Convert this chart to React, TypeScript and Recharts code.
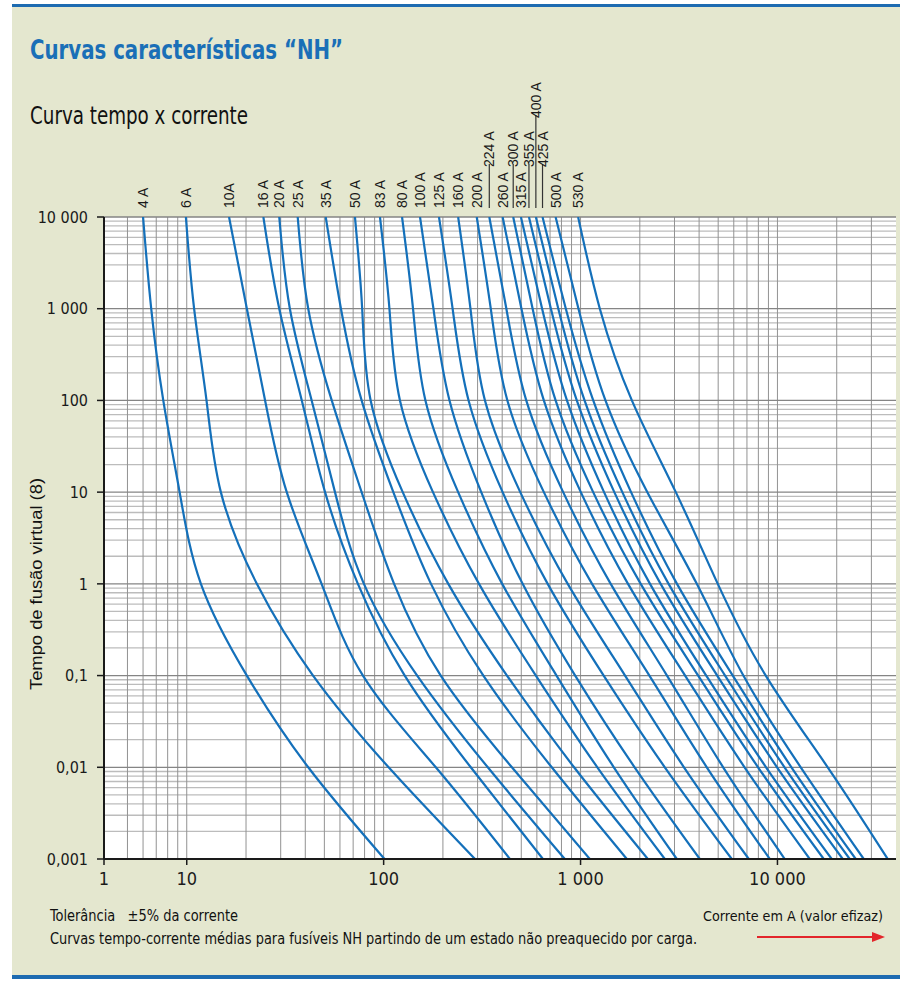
import { LineChart, Line, XAxis, YAxis, CartesianGrid } from 'recharts';

// fusing time (s) at which each current below is read
const TIMES = [10000, 1000, 100, 10, 1, 0.1, 0.01, 0.001];

// current (A) of each curve at the times above
const I_4 = [6.0, 6.6, 7.6, 9.2, 11.8, 20.2, 41.4, 101];
const I_6 = [9.9, 10.9, 12.6, 14.9, 22.7, 43.8, 106, 291];
const I_10 = [16.4, 20.2, 25.0, 32.2, 48.4, 78.5, 184, 438];
const I_16 = [24.5, 29.5, 38.4, 50.4, 74.0, 128, 277, 644];
const I_20 = [29.5, 33.4, 43.1, 56.6, 79.4, 148, 338, 832];
const I_25 = [36.6, 41.4, 54.5, 77.3, 113, 195, 448, 1115];
const I_35 = [50.8, 60.7, 77.3, 112, 174, 321, 714, 1718];
const I_50 = [71.5, 77.8, 85.9, 125, 213, 423, 927, 2196];
const I_63 = [95.8, 107, 121, 178, 305, 593, 1217, 2679];
const I_80 = [124, 141, 163, 239, 400, 755, 1476, 3082];
const I_100 = [153, 179, 216, 313, 508, 939, 1882, 4033];
const I_125 = [191, 224, 270, 402, 681, 1311, 2679, 5861];
const I_160 = [239, 276, 327, 494, 861, 1683, 3352, 7151];
const I_200 = [297, 350, 425, 651, 1144, 2237, 4377, 9140];
const I_224 = [344, 420, 530, 816, 1423, 2748, 5301, 10891];
const I_250 = [402, 501, 651, 1003, 1742, 3396, 6808, 14588];
const I_300 = [455, 571, 747, 1159, 2021, 3958, 7971, 17180];
const I_315 = [498, 638, 853, 1316, 2253, 4346, 8752, 18862];
const I_355 = [547, 707, 957, 1484, 2551, 4942, 9954, 21460];
const I_400 = [593, 771, 1048, 1630, 2800, 5420, 10864, 23280];
const I_425 = [641, 842, 1160, 1805, 3089, 5931, 11778, 24980];
const I_500 = [747, 976, 1338, 2184, 3894, 6713, 13128, 27430];
const I_630 = [972, 1253, 1822, 3046, 4977, 8722, 18000, 36300];

const CURVES = [
  I_4, I_6, I_10, I_16, I_20, I_25, I_35, I_50, I_63, I_80, I_100, I_125,
  I_160, I_200, I_224, I_250, I_300, I_315, I_355, I_400, I_425, I_500, I_630,
];
const CURVE_LABELS = [
  '4 A', '6 A', '10A', '16 A', '20 A', '25 A', '35 A', '50 A', '83 A', '80 A', '100 A', '125 A',
  '160 A', '200 A', '224 A', '260 A', '300 A', '315 A', '355 A', '400 A', '425 A', '500 A', '530 A',
];

const X_MIN = 3.8;
const X_MAX = 40000;
const X_TICKS = [X_MIN, 10, 100, 1000, 10000];
const X_TICK_LABELS = ['1', '10', '100', '1 000', '10 000'];
const Y_TICKS = [0.001, 0.01, 0.1, 1, 10, 100, 1000, 10000];
const Y_TICK_LABELS = ['0,001', '0,01', '0,1', '1', '10', '100', '1 000', '10 000'];

// which row of the header each curve name sits in (0 = lowest)
const LABEL_ROW = [0, 0, 0, 0, 0, 0, 0, 0, 0, 0, 0, 0, 0, 0, 1, 0, 1, 0, 1, 2, 1, 0, 0];
const ROW_LIFT = [0, 41, 90];

const BLUE = '#1470ba';
const PANEL = '#e4e7cf';
const NARROW = "'Liberation Sans Narrow', 'Arial Narrow', 'DejaVu Sans Condensed', 'Liberation Sans', sans-serif";
const ARIAL = "'Liberation Sans', Arial, sans-serif";

// grid values: 2..9 inside each decade
const minorCurrents: number[] = [];
for (let d = 1; d <= 10000; d *= 10) {
  for (let k = 1; k <= 9; k++) {
    const v = k * d;
    if (v >= 5 && v < X_MAX) minorCurrents.push(v);
  }
}
const minorTimes: number[] = [];
for (let d = 0.001; d < 10000; d *= 10) {
  for (let k = 2; k <= 9; k++) minorTimes.push(+(k * d).toPrecision(3));
}

const seriesData = CURVES.map((cur) => cur.map((i, n) => ({ i, t: TIMES[n] })));

function CurveLabel(props: any) {
  const { x, y, payload } = props;
  const idx = CURVES.findIndex((c) => c[0] === payload.value);
  if (idx < 0) return null;
  const row = LABEL_ROW[idx];
  const base = y - 9 - ROW_LIFT[row];
  return (
    <g>
      {row > 0 && <line x1={x} x2={x} y1={y - 9} y2={base - 3} stroke="#333" strokeWidth={1.2} />}
      <text
        x={x}
        y={base}
        transform={`rotate(-90, ${x}, ${base})`}
        textAnchor="start"
        dominantBaseline="central"
        fontFamily={ARIAL}
        fontSize={14}
        fill="#1a1a1a"
      >
        {CURVE_LABELS[idx]}
      </text>
    </g>
  );
}

export default function App() {
  return (
    <div style={{ position: 'absolute', left: 0, top: 0, width: 900, height: 981, background: '#fff' }}>
      <svg width={900} height={981} style={{ position: 'absolute', left: 0, top: 0 }}>
        <rect x={12} y={5} width={888} height={972} fill={PANEL} />
        <rect x={12} y={4} width={888} height={3} fill="#1d6bb1" />
        <rect x={12} y={975} width={888} height={4} fill="#1d6bb1" />
        <text x={30} y={59} fontFamily={NARROW} fontWeight="bold" fontSize={26} fill="#1a6fb7" textLength={313} lengthAdjust="spacingAndGlyphs">
          Curvas características “NH”
        </text>
        <text x={30} y={124} fontFamily={NARROW} fontSize={24} fill="#111" textLength={218} lengthAdjust="spacingAndGlyphs">
          Curva tempo x corrente
        </text>
        <text
          x={42}
          y={584}
          transform="rotate(-90, 42, 584)"
          textAnchor="middle"
          fontFamily={ARIAL}
          fontSize={17}
          fill="#111"
          textLength={212}
          lengthAdjust="spacingAndGlyphs"
        >
          Tempo de fusão virtual (8)
        </text>
        <text x={50} y={921} fontFamily={NARROW} fontSize={16} fill="#111" style={{ whiteSpace: 'pre' }} textLength={188} lengthAdjust="spacingAndGlyphs">
          {'Tolerância   ±5% da corrente'}
        </text>
        <text x={50} y={944} fontFamily={NARROW} fontSize={16} fill="#111" textLength={647} lengthAdjust="spacingAndGlyphs">
          Curvas tempo-corrente médias para fusíveis NH partindo de um estado não preaquecido por carga.
        </text>
        <text x={703} y={921} fontFamily={NARROW} fontSize={14} fill="#111" textLength={180} lengthAdjust="spacingAndGlyphs">
          Corrente em A (valor efizaz)
        </text>
        <line x1={757} y1={937} x2={874} y2={937} stroke="#e3262b" strokeWidth={2.2} />
        <polygon points="885,937 872,932 872,942" fill="#e3262b" />
      </svg>
      <div style={{ position: 'absolute', left: 0, top: 0 }}>
        <LineChart width={900} height={900} margin={{ top: 67, right: 4, bottom: 11, left: 34 }}>
          <CartesianGrid fill="#fff" vertical={false} horizontalValues={minorTimes} stroke="#bcbcbc" strokeWidth={1.3} />
          <CartesianGrid horizontal={false} verticalValues={minorCurrents} stroke="#929292" strokeWidth={1} />
          <CartesianGrid vertical={false} horizontalValues={Y_TICKS} stroke="#858585" strokeWidth={1.3} />
          <XAxis
            dataKey="i"
            type="number"
            scale="log"
            domain={[X_MIN, X_MAX]}
            allowDataOverflow
            ticks={X_TICKS}
            interval={0}
            tickFormatter={(v: number) => X_TICK_LABELS[X_TICKS.indexOf(v)]}
            height={30}
            tickSize={6}
            tickMargin={7}
            axisLine={{ stroke: '#1a1a1a', strokeWidth: 2 }}
            tickLine={{ stroke: '#1a1a1a', strokeWidth: 1.5 }}
            tick={{ fill: '#1a1a1a', fontSize: 18, fontFamily: NARROW }}
          />
          <XAxis
            xAxisId="top"
            orientation="top"
            dataKey="i"
            type="number"
            scale="log"
            domain={[X_MIN, X_MAX]}
            allowDataOverflow
            ticks={CURVES.map((c) => c[0])}
            interval={0}
            height={150}
            tickSize={0}
            tickMargin={0}
            axisLine={false}
            tickLine={false}
            tick={CurveLabel}
          />
          <YAxis
            type="number"
            scale="log"
            domain={[0.001, 10000]}
            allowDataOverflow
            ticks={Y_TICKS}
            interval={0}
            tickFormatter={(v: number) => Y_TICK_LABELS[Y_TICKS.indexOf(v)]}
            width={70}
            tickSize={7}
            tickMargin={9}
            axisLine={{ stroke: '#1a1a1a', strokeWidth: 2 }}
            tickLine={{ stroke: '#1a1a1a', strokeWidth: 1.5 }}
            tick={{ fill: '#1a1a1a', fontSize: 16, fontFamily: NARROW }}
          />
          {seriesData.map((d, n) => (
            <Line
              key={CURVE_LABELS[n]}
              data={d}
              dataKey="t"
              type="natural"
              stroke={BLUE}
              strokeWidth={2.2}
              dot={false}
              isAnimationActive={false}
            />
          ))}
        </LineChart>
      </div>
    </div>
  );
}
